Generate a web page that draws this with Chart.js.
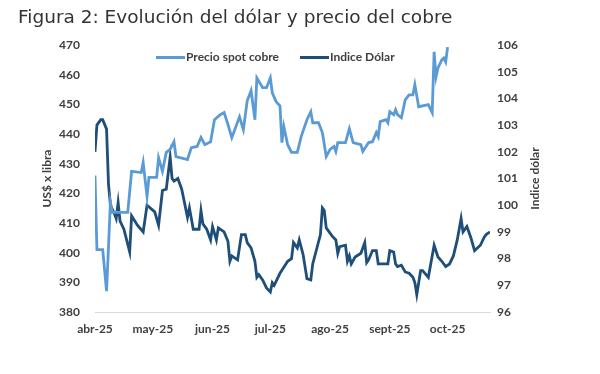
<!DOCTYPE html>
<html>
<head>
<meta charset="utf-8">
<script src="https://cdn.jsdelivr.net/npm/chart.js@4"></script>
<style>
  html, body { margin: 0; padding: 0; background: #fff; }
  #wrap { position: relative; width: 600px; height: 374px; }
  #title { position: absolute; left: 18px; top: 6px; font: 18.5px "DejaVu Sans", sans-serif; color: #333; white-space: nowrap; }
</style>
</head>
<body>
<div id="wrap">
  <canvas id="plots"></canvas>
  <div id="title">Figura 2: Evolución del dólar y precio del cobre</div>
</div>
<script>
// Month ticks on the x axis (days counted from 1 Apr 2025)
var monthLabels = ["abr-25", "may-25", "jun-25", "jul-25", "ago-25", "sept-25", "oct-25"];
var monthDays = [0, 30, 61, 91, 122, 153, 183];

// Precio spot cobre (US$ x libra), left axis
var copperDays = [0, 1, 4, 6, 8, 9, 17, 19, 24, 25, 27, 28, 32, 33, 35, 37, 39, 41, 42, 48,
  50, 53, 55, 57, 60, 62, 65, 67, 69, 71, 72, 75, 77, 79, 81, 83, 84, 87, 89, 91,
  92, 94, 96, 97, 98, 100, 102, 105, 107, 110, 112, 113, 116, 118, 120, 122, 124, 125, 126, 130,
  132, 134, 138, 139, 142, 144, 146, 147, 148, 151, 152, 153, 155, 156, 157, 159, 161, 163, 165, 166,
  168, 173, 175, 176, 177, 178, 180, 181, 182, 183];
var copperValues = [426, 401, 401, 387, 417, 413.6, 413.6, 427.4, 427, 430.4, 419, 425.4, 425.4, 432, 427.4, 433.8, 434.8, 437.4, 432.4, 431.4,
  435.4, 435.8, 438.8, 436.4, 437.4, 444.8, 446.5, 447.2, 443.2, 438.8, 440.5, 445.8, 441.5, 451.2, 454.6, 444.8, 458.9, 455.6, 455.6, 458.9,
  453.9, 450.9, 449.5, 437.1, 442.5, 436.4, 433.8, 433.8, 439.1, 444.8, 447.5, 443.8, 443.8, 440.5, 432.4, 434.8, 435.8, 434.1, 437.1, 437.1,
  441.8, 437.1, 436.4, 434.1, 437.1, 437.4, 440.5, 439.1, 444.2, 444.8, 443.8, 447.5, 446.5, 448.2, 446.5, 445.5, 451.5, 453.2, 453.2, 456.6,
  449.2, 449.9, 447.2, 467.7, 459.3, 462.3, 465, 465.6, 464.3, 469.3];

// Indice Dolar, right axis
var dollarDays = [0, 1, 3, 4, 6, 7, 8, 10, 11, 12, 13, 15, 18, 19, 22, 25, 27, 31, 33, 35,
  37, 39, 40, 41, 43, 45, 47, 48, 49, 51, 54, 55, 56, 58, 60, 61, 63, 64, 67, 69,
  70, 71, 74, 76, 78, 79, 81, 83, 84, 85, 87, 89, 91, 92, 93, 96, 100, 102, 103, 105,
  106, 108, 110, 112, 113, 117, 118, 119, 120, 123, 125, 126, 127, 130, 131, 132, 133, 135, 138, 140,
  141, 142, 144, 146, 147, 152, 153, 155, 156, 157, 159, 161, 163, 165, 166, 167, 169, 170, 173, 176,
  178, 180, 182, 184, 186, 188, 190, 191, 193, 195, 197, 200, 202, 203, 205];
var dollarValues = [102.0, 103.0, 103.2, 103.2, 102.85, 100.8, 100.0, 99.7, 99.5, 100.1, 99.4, 99.1, 98.25, 99.6, 99.25, 99.0, 100.0, 99.75, 99.25, 100.55,
  100.6, 101.8, 101.0, 100.9, 101.0, 100.6, 99.9, 99.55, 99.9, 99.1, 99.1, 99.8, 99.3, 99.1, 98.7, 99.2, 98.7, 99.15, 99.0, 98.65,
  97.9, 98.1, 97.95, 98.9, 98.9, 98.6, 98.4, 97.9, 97.3, 97.4, 97.2, 96.9, 96.75, 97.1, 97.0, 97.45, 97.9, 98.0, 98.6, 98.4,
  98.7, 98.15, 97.25, 97.2, 97.8, 98.9, 99.9, 99.8, 99.15, 98.85, 98.7, 98.2, 98.45, 98.5, 97.9, 98.1, 97.8, 98.06, 98.2, 98.6,
  97.85, 97.95, 98.3, 98.3, 97.8, 97.8, 98.3, 98.25, 97.8, 97.7, 97.75, 97.5, 97.45, 97.3, 97.1, 96.65, 97.55, 97.55, 97.3, 98.5,
  98.06, 97.9, 97.7, 97.8, 98.1, 98.7, 99.5, 99.0, 99.2, 98.8, 98.3, 98.5, 98.8, 98.9, 99.0];

var labelFont = { family: "Lato", size: 12, weight: "bold" };
var textColor = "#404040";

// Draws the in-plot legend and both rotated axis titles
var overlay = {
  id: "overlay",
  afterDraw: function (chart) {
    var ctx = chart.ctx, area = chart.chartArea;
    ctx.save();
    ctx.font = "bold 12px Lato";
    ctx.fillStyle = textColor;
    ctx.textAlign = "center";
    ctx.textBaseline = "middle";
    var midY = (area.top + area.bottom) / 2;
    [[area.left - 48, "US$ x libra"], [area.right + 45, "Indice dólar"]].forEach(function (t) {
      ctx.save();
      ctx.translate(t[0], midY);
      ctx.rotate(-Math.PI / 2);
      ctx.fillText(t[1], 0, 0);
      ctx.restore();
    });
    // legend
    var x = area.left + 61, y = area.top + 12.5;
    ctx.textAlign = "left";
    chart.data.datasets.forEach(function (ds) {
      ctx.strokeStyle = ds.borderColor;
      ctx.lineWidth = 3;
      ctx.beginPath();
      ctx.moveTo(x, y);
      ctx.lineTo(x + 29, y);
      ctx.stroke();
      ctx.fillStyle = textColor;
      ctx.fillText(ds.label, x + 30, y);
      x += 30 + ctx.measureText(ds.label).width + 21;
    });
    ctx.restore();
  }
};

var plots = document.getElementById("plots");
new Chart(plots, {
  type: "line",
  data: {
    datasets: [{
      label: "Precio spot cobre",
      data: copperDays.map(function (d, i) { return { x: d, y: copperValues[i] }; }),
      borderColor: "#5b9bd5",
      borderWidth: 2.8,
      pointRadius: 0,
      yAxisID: "y"
    }, {
      label: "Indice Dólar",
      data: dollarDays.map(function (d, i) { return { x: d, y: dollarValues[i] }; }),
      borderColor: "#1f4e79",
      borderWidth: 2.8,
      pointRadius: 0,
      yAxisID: "y1"
    }]
  },
  options: {
    responsive: true,
    maintainAspectRatio: false,
    animation: false,
    layout: { padding: { top: 45, bottom: 34, left: 0, right: 0 } },
    plugins: { legend: { display: false }, tooltip: { enabled: false } },
    scales: {
      x: {
        type: "linear",
        min: 0,
        max: 205,
        afterBuildTicks: function (scale) {
          scale.ticks = monthDays.map(function (v) { return { value: v }; });
        },
        afterFit: function (scale) { scale.height = 28; },
        ticks: {
          autoSkip: false,
          maxRotation: 0,
          padding: 10,
          font: labelFont,
          color: textColor,
          callback: function (v) { return monthLabels[monthDays.indexOf(v)]; }
        },
        grid: { display: false, drawTicks: false },
        border: { color: "#d9d9d9", width: 1 }
      },
      y: {
        position: "left",
        min: 380,
        max: 470,
        afterFit: function (scale) { scale.width = 95; },
        ticks: { stepSize: 10, padding: 15, font: labelFont, color: textColor },
        grid: { display: false, drawTicks: false },
        border: { display: false }
      },
      y1: {
        position: "right",
        min: 96,
        max: 106,
        afterFit: function (scale) { scale.width = 110; },
        ticks: { stepSize: 1, padding: 7, font: labelFont, color: textColor },
        grid: { display: false, drawTicks: false },
        border: { display: false }
      }
    }
  },
  plugins: [overlay]
});
</script>
</body>
</html>
